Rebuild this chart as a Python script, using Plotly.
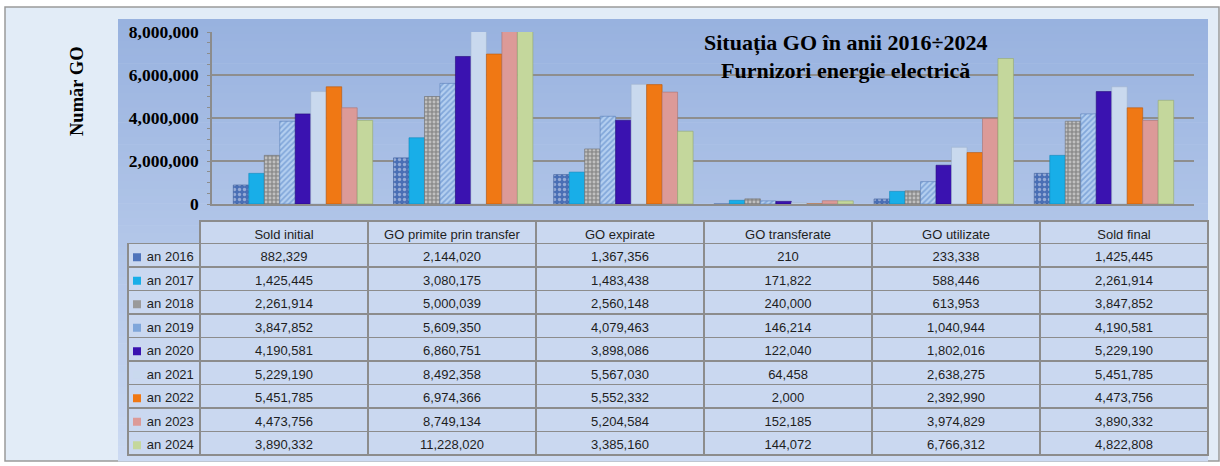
import plotly.graph_objects as go

# ---------------- data ----------------
categories = ["Sold initial", "GO primite prin transfer", "GO expirate",
              "GO transferate", "GO utilizate", "Sold final"]
series_names = ["an 2016", "an 2017", "an 2018", "an 2019", "an 2020",
                "an 2021", "an 2022", "an 2023", "an 2024"]
an_2016 = [882329, 2144020, 1367356, 210, 233338, 1425445]
an_2017 = [1425445, 3080175, 1483438, 171822, 588446, 2261914]
an_2018 = [2261914, 5000039, 2560148, 240000, 613953, 3847852]
an_2019 = [3847852, 5609350, 4079463, 146214, 1040944, 4190581]
an_2020 = [4190581, 6860751, 3898086, 122040, 1802016, 5229190]
an_2021 = [5229190, 8492358, 5567030, 64458, 2638275, 5451785]
an_2022 = [5451785, 6974366, 5552332, 2000, 2392990, 4473756]
an_2023 = [4473756, 8749134, 5204584, 152185, 3974829, 3890332]
an_2024 = [3890332, 11228020, 3385160, 144072, 6766312, 4822808]
series_values = [an_2016, an_2017, an_2018, an_2019, an_2020,
                 an_2021, an_2022, an_2023, an_2024]
y_tick_values = [0, 2000000, 4000000, 6000000, 8000000]
y_tick_labels = ["0", "2,000,000", "4,000,000", "6,000,000", "8,000,000"]

# ---------------- styles ----------------
W, H = 1220, 466
def fx(x): return x / W
def fy(y): return 1 - y / H

bar_styles = [
    dict(color="#5a7cc0", pattern=dict(shape=".", fgcolor="#dfe8f7", bgcolor="#4a6fb5", size=5, solidity=0.35)),
    dict(color="#18aee8"),
    dict(color="#a3a3a3", pattern=dict(shape=".", fgcolor="#f2f2f2", bgcolor="#8e8e8e", size=4, solidity=0.4)),
    dict(color="#8fb6e6", pattern=dict(shape="/", fgcolor="#4f80c4", bgcolor="#b4cff0", size=4, solidity=0.45)),
    dict(color="#3a12b0"),
    dict(color="#c9d9ee"),
    dict(color="#f07814"),
    dict(color="#dc9a98"),
    dict(color="#c4d79c"),
]
swatch_colors = ["#4f74bb", "#18aee8", "#9a9a9a", "#7fa6da", "#3a12b0",
                 "#c9d9ee", "#f07814", "#dc9a98", "#c4d79c"]
edge_colors = ["#3a5a95", "#0f88bb", "#707070", "#5a80b8", "#25087a",
               "#9fb3cf", "#b85608", "#a87270", "#93a870"]

fig = go.Figure()

for name, vals, st, ec in zip(series_names, series_values, bar_styles, edge_colors):
    marker = dict(color=st["color"], line=dict(color=ec, width=0.6))
    if "pattern" in st:
        marker["pattern"] = st["pattern"]
    fig.add_trace(go.Bar(name=name, x=categories, y=vals, marker=marker,
                         showlegend=False, hoverinfo="x+y+name"))

# ---------------- table ----------------
cell_fill = "#cad8f0"
line_col = "#8c8c8c"
tbl_top, hdr_h, row_h = 221, 22.5, 23.5
label_col = ["\u00a0\u00a0\u00a0" + n.replace(" ", "\u00a0") for n in series_names]
table_cols = [label_col] + [[f"{series_values[i][j]:,}" for i in range(len(series_names))]
                            for j in range(len(categories))]
tbl_font = dict(family="Liberation Sans, Arial, sans-serif", size=13, color="#1e1e1e")
fig.add_trace(go.Table(
    domain=dict(x=[fx(128), fx(1208)], y=[fy(459), fy(tbl_top)]),
    columnwidth=[72] + [168] * 6,
    header=dict(values=[""] + categories,
                fill=dict(color=["rgba(0,0,0,0)"] + [cell_fill] * 6),
                line=dict(color=["rgba(0,0,0,0)"] + [line_col] * 6, width=1.5),
                align="center", height=hdr_h, font=tbl_font),
    cells=dict(values=table_cols,
               fill=dict(color=cell_fill),
               line=dict(color=line_col, width=1.5),
               align=["left"] + ["center"] * 6, height=row_h, font=tbl_font),
))

# ---------------- background shapes ----------------
shapes = []
shapes.append(dict(type="rect", xref="paper", yref="paper", x0=fx(5), x1=fx(1219), y0=fy(461), y1=fy(7),
                   line=dict(color="#9a9a9a", width=1.5), fillcolor="#e2ecf7", layer="below"))
top_rgb = (152, 178, 223)
bot_rgb = (204, 218, 242)
n = 60
y_top, y_bot = 19, 461
for k in range(n):
    t = k / (n - 1)
    c = tuple(int(round(a + (b - a) * t)) for a, b in zip(top_rgb, bot_rgb))
    ya = y_top + (y_bot - y_top) * k / n
    yb = y_top + (y_bot - y_top) * (k + 1) / n + 0.6
    shapes.append(dict(type="rect", xref="paper", yref="paper", x0=fx(118), x1=fx(1208),
                       y0=fy(yb), y1=fy(ya), line=dict(width=0),
                       fillcolor=f"rgb{c}", layer="below"))
# legend swatches in the table's label column
for i, c in enumerate(swatch_colors):
    yc = tbl_top + hdr_h + row_h * (i + 0.5) + 2
    shapes.append(dict(type="rect", xref="paper", yref="paper", x0=fx(133), x1=fx(141),
                       y0=fy(yc + 4), y1=fy(yc - 4), line=dict(width=0), fillcolor=c, layer="above"))

annotations = [
    dict(text="<b>Situația GO în anii 2016÷2024</b>", x=fx(845), y=fy(43), xref="paper", yref="paper",
         showarrow=False, xanchor="center", yanchor="middle",
         font=dict(family="Liberation Serif, serif", size=22, color="#000")),
    dict(text="<b>Furnizori energie electrică</b>", x=fx(845), y=fy(70), xref="paper", yref="paper",
         showarrow=False, xanchor="center", yanchor="middle",
         font=dict(family="Liberation Serif, serif", size=22, color="#000")),
    dict(text="<b>Număr GO</b>", x=fx(77), y=fy(91), xref="paper", yref="paper",
         showarrow=False, textangle=-90, xanchor="center", yanchor="middle",
         font=dict(family="Liberation Serif, serif", size=18.5, color="#000")),
]

fig.update_layout(
    width=W, height=H,
    margin=dict(l=0, r=0, t=0, b=0, pad=0),
    paper_bgcolor="#ffffff",
    plot_bgcolor="rgba(0,0,0,0)",
    barmode="group", bargap=0.13, bargroupgap=0,
    shapes=shapes, annotations=annotations,
    xaxis=dict(domain=[fx(212), fx(1194)], range=[-0.568, 5.562], showticklabels=False,
               showgrid=False, zeroline=False, showline=True, linecolor="#8c8c8c", linewidth=2,
               automargin=False, fixedrange=True),
    yaxis=dict(domain=[fy(204), fy(32)], range=[0, 8000000],
               tickvals=y_tick_values, ticktext=y_tick_labels,
               tickfont=dict(family="Liberation Serif, serif", size=17.5, color="#000", weight="bold"),
               showgrid=True, gridcolor="#8e8e8e", gridwidth=2, zeroline=False,
               showline=True, linecolor="#8c8c8c", linewidth=1.5,
               ticks="", ticklabelstandoff=8, automargin=False,
               minor=dict(tickvals=[v for v in range(0, 8000001, 500000)], ticks="outside",
                          ticklen=3, tickcolor="#8c8c8c", showgrid=False),
               fixedrange=True),
)

post = ("var gd=document.getElementById('{plot_id}');"
        "gd.style.position='fixed';gd.style.top='0px';gd.style.left='0px';"
        "document.documentElement.style.margin='0';document.body.style.margin='0';"
        "document.documentElement.style.overflow='hidden';document.body.style.overflow='hidden';")
fig.write_html("out.html", config={"displayModeBar": False}, post_script=post)
